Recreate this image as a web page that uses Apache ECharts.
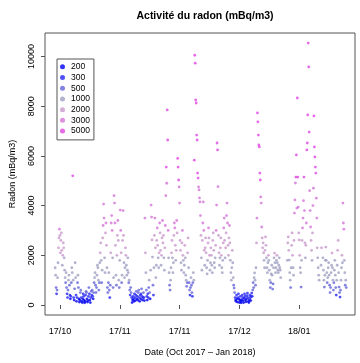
<!DOCTYPE html>
<html><head><meta charset="utf-8">
<script src="https://cdn.jsdelivr.net/npm/echarts@6/dist/echarts.min.js"></script>
<style>html,body{margin:0;padding:0;background:#fff}#c{width:360px;height:363px}</style>
</head><body><div id="c"></div>
<script>
// Day numbers: day 0 = 1 Oct 2017 00:00; readings every 4 hours
const STEP = 1 / 6;
const tickDays = [17, 38, 59, 80, 101];
const tickLabels = ['17/10', '17/11', '17/11', '17/12', '18/01'];
const yTicks = [0, 2000, 4000, 6000, 8000, 10000];

const binLabels = ['200', '300', '500', '1000', '2000', '3000', '5000'];
const binUpper = [300, 500, 1000, 2000, 3000, 5000, Infinity];
const binColors = ['#0000f0', '#2424f2', '#6464d8', '#a0a0c4', '#c898cc', '#d674d8', '#e046e2'];

const startA = 15.3;
const radonA = [
 1500,1200,700,450,600,1100,
 1700,2300,2700,3050,2800,2100,
 2600,2900,2200,1600,2000,2500,
 2300,1900,1400,1100,900,1300,
 700,450,300,600,1000,1200,
 800,400,250,350,900,1500,
 1300,5200,1000,300,200,650,
 1700,1100,400,150,300,900,
 1200,700,250,120,200,500,
 600,300,150,100,250,450,
 350,200,90,150,400,550,
 500,250,120,180,350,700,
 450,200,100,300,550,400,
 600,350,250,500,900,1100,
 1300,800,500,700,1200,1600,
 1500,1000,600,900,1700,2100,
 2500,1800,900,1400,2700,3200,
 4060,3500,1900,1300,2900,3300,
 2400,1500,700,500,900,1300,
 600,300,800,2100,3300,3600,
 3000,1900,700,1100,4400,4100,
 3300,2400,1200,800,2000,2800,
 3400,2600,1000,700,1800,3820,
 3000,2100,900,1200,2600,3800,
 2800,1700,1100,1500,2300,2000,
 1600,1200,1400,1900,1300,900
];

const startB = 41.3;
const radonB = [
 1000,600,400,700,500,300,
 100,200,350,250,150,450,
 300,180,400,550,250,350,
 200,500,600,300,150,400,
 250,450,650,350,200,300,
 500,300,180,3500,2100,1300,
 600,350,200,450,300,700,
 1000,500,250,1400,4020,3540,
 2620,1930,800,400,1500,2800,
 3500,2300,1100,1600,2600,3100,
 2400,1900,1500,2100,3300,2900,
 2200,1600,2000,2700,3400,2500,
 2800,1900,1400,2300,3200,4400,
 5550,4900,7850,6640,3000,1900,
 1300,800,600,1000,1500,2100,
 2600,1900,1300,1700,2800,3300,
 3100,2400,1800,2200,3400,2900,
 5900,5550,5030,4750,4100,2600,
 2200,1700,1400,2500,3000,2000,
 1800,1300,1600,2400,1900,1200,
 1000,750,900,2100,2700,1500,
 900,600,400,700,1100,800,
 500,350,900,1300,1000,5830,
 10050,9730,8250,8130,6840,6640,
 5310,5110,4750,4630,4310,4150
];

const startC = 66.3;
const radonC = [
 3600,2800,1900,1400,2600,3300,
 4150,3000,2200,1600,2300,2700,
 2100,1500,1250,1800,2500,3100,
 2700,2000,1400,1700,2300,2000,
 1600,1300,2600,2900,2200,1700,
 1500,1900,2400,3000,4020,6520,
 6240,4760,2800,2100,1600,1900,
 2300,2700,2000,1500,1300,1800,
 2500,3100,3500,2600,1900,2300,
 2900,3600,4100,3300,2400,2000,
 2700,3200,2500,1800,1300,1000,
 1500,2200,1700,1100,800,680,
 500,300,200,150,400,250,
 120,300,450,250,100,200,
 350,150,90,220,400,300,
 180,100,280,450,350,200,
 130,250,380,480,300,150,
 100,220,400,300,180,350,
 480,350,600,900,700,1100,
 1290,1000,800,1500,2500,3500,
 7730,7370,6840,6440,6360,5310,
 5030,4350,4100,3140,2700,2300,
 2500,2100,1800,1500,2200,2740,
 2400,1900,1500,1300,1700,2000,
 1800,1400,1000,700,900,1250
];

const startD = 91.3;
const radonD = [
 1600,1200,640,850,1500,1900,
 2090,1700,1300,1500,1800,2000,
 1700,1400,1300,1600,1900,1500,
 1400,1100,null,null,null,null,
 null,null,null,null,null,null,
 null,null,null,1800,2500,2740,
 2200,1810,1300,1000,700,1500,
 2400,2900,2000,1500,1200,2600,
 3700,4230,4910,5150,6040,3900,
 8330,5150,3940,2900,2620,2000,
 1500,1300,720,1800,2600,3100,
 3500,4200,5150,3800,2500,1900,
 2400,3300,6240,6520,7650,10540,
 9580,6960,4600,3800,3140,2600,
 2200,1800,2900,4000,4700,7610,
 6360,5960,5550,5310,4300,3500,
 2300,1900,1500,1200,1000,null,
 null,null,1600,2300,null,null,
 1900,1400,1000,720,1200,1800,
 2330,1800,1300,900,1100,1500,
 1700,1200,800,500,700,1300,
 1600,2090,1500,1000,600,900,
 1400,1800,1200,700,400,1000,
 1600,2200,2600,1300,720,500,
 320,600,1000,1500,2000,1700,
 4100,3300,3050,1800,1300,800,
 1000,700
];

function toPoints(start, arr) {
  const out = [];
  arr.forEach((v, i) => { if (v !== null) out.push([start + i * STEP, v]); });
  return out;
}
const allPoints = [].concat(
  toPoints(startA, radonA), toPoints(startB, radonB),
  toPoints(startC, radonC), toPoints(startD, radonD));
const binned = binLabels.map(() => []);
allPoints.forEach(p => {
  const k = binUpper.findIndex(u => p[1] < u);
  binned[k].push(p);
});

const FONT = 'Liberation Sans, Arial, Helvetica, sans-serif';
const chart = echarts.init(document.getElementById('c'), null, {renderer: 'canvas'});
chart.setOption({
  animation: false,
  backgroundColor: '#fff',
  title: {
    text: 'Activité du radon (mBq/m3)',
    left: 200, top: 6, textAlign: 'center',
    textStyle: {fontFamily: FONT, fontSize: 10.5, fontWeight: 'bold', color: '#000'}
  },
  legend: {
    orient: 'vertical', left: 57, top: 59,
    padding: [3, 4, 4, 3],
    borderColor: '#555', borderWidth: 1,
    itemWidth: 7, itemHeight: 5, itemGap: 1,
    icon: 'circle',
    textStyle: {fontFamily: FONT, fontSize: 8.5, color: '#000', lineHeight: 9.7},
    data: binLabels
  },
  grid: {left: 45, right: 5, top: 33, bottom: 48, show: true, borderColor: '#555', borderWidth: 1, backgroundColor: 'transparent'},
  xAxis: {
    type: 'value', min: 11.73, max: 120.55,
    axisLine: {show: false},
    splitLine: {show: false},
    axisTick: {show: true, customValues: tickDays, length: 4, lineStyle: {color: '#555'}},
    axisLabel: {customValues: tickDays, formatter: v => tickLabels[tickDays.indexOf(v)],
      fontFamily: FONT, fontSize: 9, color: '#000', margin: 12},
    name: 'Date (Oct 2017 \u2013 Jan 2018)', nameLocation: 'middle', nameGap: 33,
    nameTextStyle: {fontFamily: FONT, fontSize: 9, color: '#000'}
  },
  yAxis: {
    type: 'value', min: -402, max: 10946,
    axisLine: {show: false},
    splitLine: {show: false},
    axisTick: {show: true, customValues: yTicks, length: 4, lineStyle: {color: '#555'}},
    axisLabel: {customValues: yTicks, formatter: v => String(v), rotate: 90,
      fontFamily: FONT, fontSize: 9, color: '#000', margin: 9},
    name: 'Radon (mBq/m3)', nameLocation: 'middle', nameRotate: 90, nameGap: 28,
    nameTextStyle: {fontFamily: FONT, fontSize: 9, color: '#000'}
  },
  series: binLabels.map((name, k) => ({
    name: name, type: 'scatter', data: binned[k],
    symbol: 'circle', symbolSize: 2.8,
    itemStyle: {color: binColors[k]},
    emphasis: {disabled: true}
  }))
});
</script></body></html>
